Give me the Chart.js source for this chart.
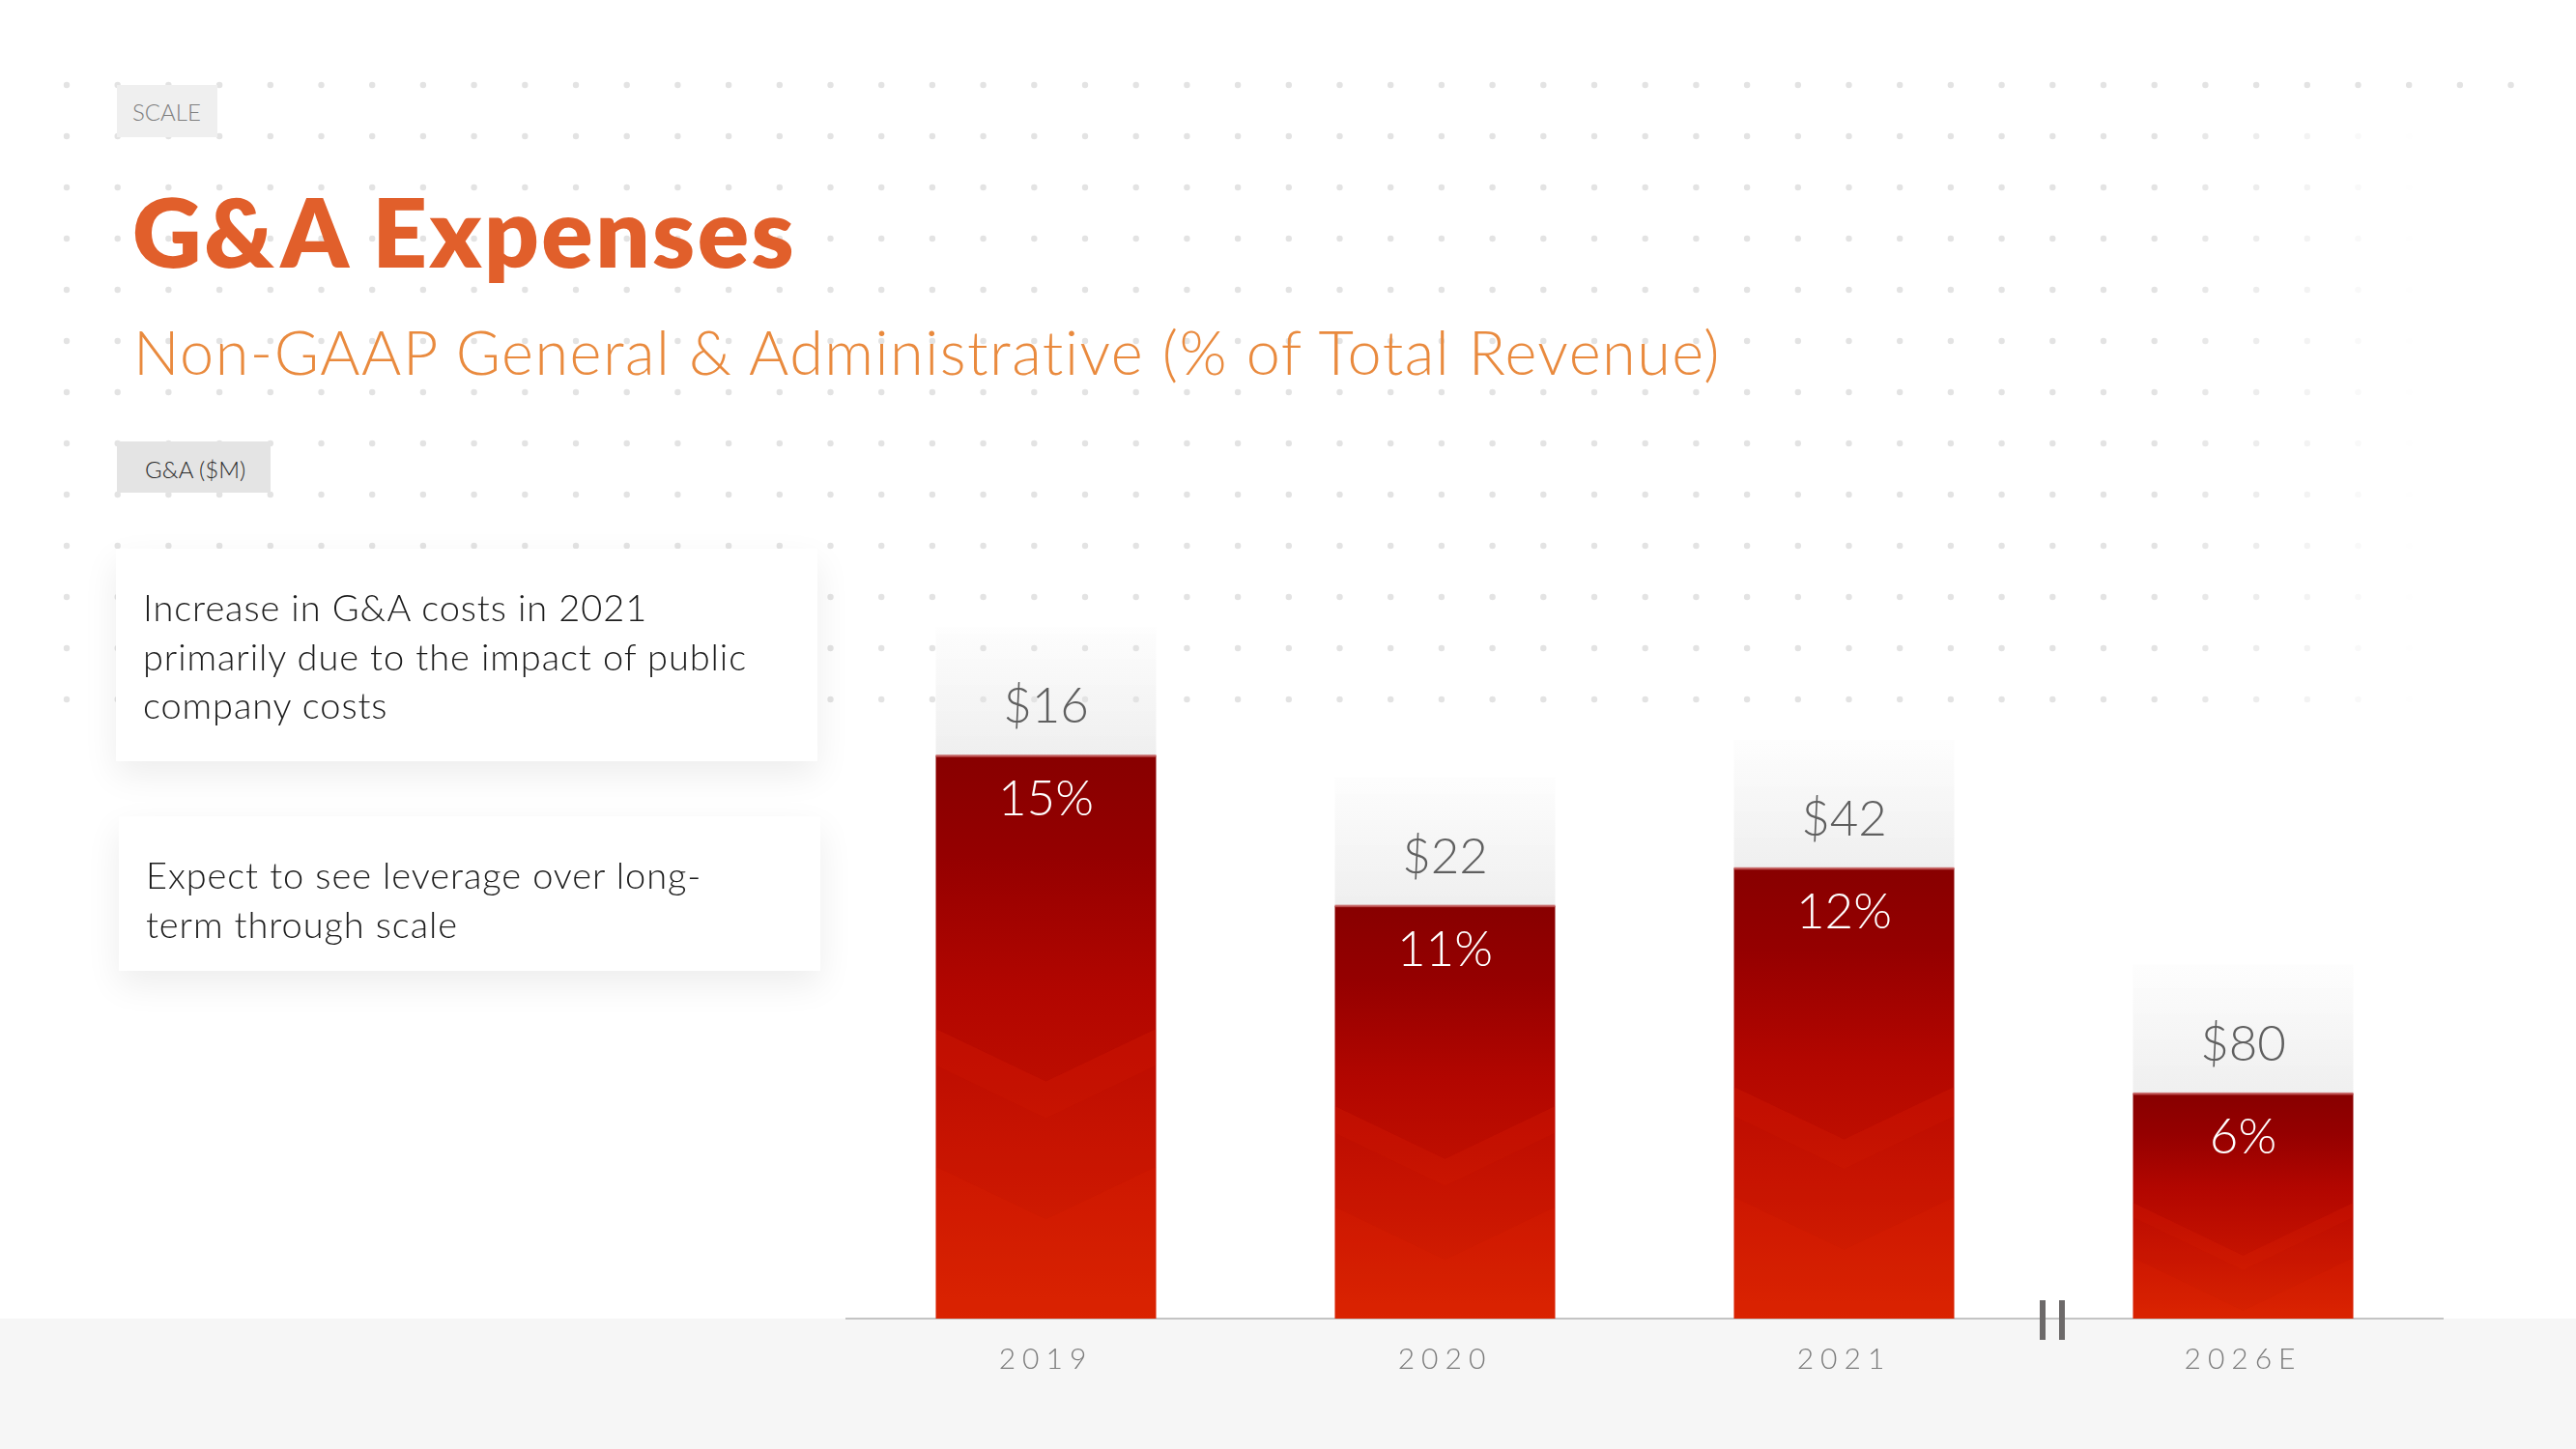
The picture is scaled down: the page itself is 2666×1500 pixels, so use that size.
<!DOCTYPE html>
<html>
<head>
<meta charset="utf-8">
<script src="https://cdn.jsdelivr.net/npm/chart.js@4.4.0/dist/chart.umd.min.js"></script>
<style>
  html, body { margin:0; padding:0; background:#ffffff; }
  body { width:2666px; height:1500px; position:relative; overflow:hidden; font-family:'Lato', 'Open Sans', sans-serif; }
  #c { position:absolute; left:0; top:0; z-index:0; }
  .abs { position:absolute; white-space:nowrap; line-height:1; z-index:2; }
  .tag { position:absolute; z-index:1; }
  .card { position:absolute; z-index:1; background:#ffffff; box-shadow:0 14px 34px rgba(0,0,0,0.075); }
  .cardtext { position:absolute; z-index:2; font-weight:300; font-size:38px; letter-spacing:0.9px; line-height:50.5px; color:#1c1c1c; white-space:nowrap; }
</style>
</head>
<body>
<canvas id="c" width="2666" height="1500"></canvas>

<div class="tag" style="left:121px; top:88px; width:104px; height:54px; background:#efefef;"></div>
<div class="abs" style="left:137px; top:104px; font-size:24px; font-weight:300; color:#7e7e7e;">SCALE</div>

<div class="abs" style="left:137px; top:189px; font-size:99px; font-weight:800; letter-spacing:2.5px; color:#E15F2B;">G&amp;A Expenses</div>
<div class="abs" style="left:138px; top:332px; font-size:63px; font-weight:300; letter-spacing:1.5px; color:#E98A3E;">Non-GAAP General &amp; Administrative (% of Total Revenue)</div>

<div class="tag" style="left:121px; top:457px; width:159px; height:53px; background:#e4e4e4;"></div>
<div class="abs" style="left:150px; top:474px; font-size:24px; font-weight:300; color:#2a2a2a;">G&amp;A ($M)</div>

<div class="card" style="left:120px; top:568px; width:726px; height:220px;"></div>
<div class="cardtext" style="left:148px; top:603px;">Increase in G&amp;A costs in 2021<br>primarily due to the impact of public<br>company costs</div>

<div class="card" style="left:123px; top:845px; width:726px; height:160px;"></div>
<div class="cardtext" style="left:151px; top:880px;">Expect to see leverage over long-<br>term through scale</div>

<script>
// ---- data ----
const categories = ['2019', '2020', '2021', '2026E'];
const pctOfRevenue = [15, 11, 12, 6];      // Non-GAAP G&A as % of total revenue (bar heights)
const gaDollarsM = [16, 22, 42, 80];        // G&A ($M), shown above each bar
const dollarLabels = ['$16', '$22', '$42', '$80'];
const pctLabels = ['15%', '11%', '12%', '6%'];

function barGradient(context) {
  const chart = context.chart;
  const { ctx, chartArea, scales } = chart;
  if (!chartArea || context.type !== 'data') return '#c00000';
  const v = context.raw;
  const top = scales.y.getPixelForValue(v);
  const base = scales.y.getPixelForValue(0);
  const g = ctx.createLinearGradient(0, top, 0, base);
  g.addColorStop(0.00, '#880000');
  g.addColorStop(0.18, '#950000');
  g.addColorStop(0.42, '#b20600');
  g.addColorStop(0.70, '#c41200');
  g.addColorStop(1.00, '#d62300');
  return g;
}

const bgPlugin = {
  id: 'bg',
  beforeDraw(chart) {
    const { ctx, chartArea, width, height } = chart;
    ctx.save();
    ctx.fillStyle = '#f6f6f6';
    ctx.fillRect(0, chartArea.bottom, width, height - chartArea.bottom);
    // dotted background grid
    for (let r = 0; r < 13; r++) {
      const y = 88 + r * 53;
      for (let c = 0; c < 49; c++) {
        const x = 69 + c * 52.7;
        const a = r === 0 ? 1 : Math.max(0, Math.min(1, (2500 - x) / 260));
        if (a <= 0) continue;
        ctx.globalAlpha = a;
        ctx.fillStyle = '#e3e3e3';
        ctx.beginPath();
        ctx.arc(x, y, 3.2, 0, Math.PI * 2);
        ctx.fill();
      }
    }
    ctx.restore();
    ctx.letterSpacing = '7px';
  },
  beforeDatasetsDraw(chart) {
    chart.ctx.letterSpacing = '0px';
  }
};

const decoPlugin = {
  id: 'deco',
  afterDatasetsDraw(chart) {
    const { ctx } = chart;
    const meta = chart.getDatasetMeta(0);
    meta.data.forEach((bar, i) => {
      const { x, y, base, width } = bar.getProps(['x', 'y', 'base', 'width'], true);
      const L = x - width / 2, R = x + width / 2, h = base - y;
      ctx.save();
      // light grey header block above the bar
      const hh = 133;
      const g = ctx.createLinearGradient(0, y - hh, 0, y);
      g.addColorStop(0, 'rgba(228,228,228,0.06)');
      g.addColorStop(1, 'rgba(228,228,228,0.60)');
      ctx.fillStyle = g;
      ctx.fillRect(L, y - hh, width, hh);
      ctx.restore();

      // subtle chevrons inside the bar
      ctx.save();
      ctx.beginPath();
      ctx.rect(L, y, width, h);
      ctx.clip();
      const d = width * 0.24;
      const veeDown = (edgeY) => {
        ctx.beginPath();
        ctx.moveTo(L, edgeY);
        ctx.lineTo(x, edgeY + d);
        ctx.lineTo(R, edgeY);
        ctx.lineTo(R, base + 1);
        ctx.lineTo(L, base + 1);
        ctx.closePath();
        ctx.fill();
      };
      const band = (y1, y2) => {
        ctx.beginPath();
        ctx.moveTo(L, y1);
        ctx.lineTo(x, y1 + d);
        ctx.lineTo(R, y1);
        ctx.lineTo(R, y2);
        ctx.lineTo(x, y2 + d);
        ctx.lineTo(L, y2);
        ctx.closePath();
        ctx.fill();
      };
      ctx.fillStyle = 'rgba(236,40,8,0.10)';
      veeDown(base - 0.515 * h);
      ctx.fillStyle = 'rgba(236,50,10,0.08)';
      band(base - 0.515 * h, base - 0.45 * h);
      ctx.fillStyle = 'rgba(236,45,8,0.12)';
      veeDown(base - 0.27 * h);
      ctx.restore();

      ctx.save();
      // thin highlight line at the bar top
      ctx.fillStyle = 'rgba(196,92,92,0.85)';
      ctx.fillRect(L, y - 1, width, 2.5);
      // value labels
      ctx.font = '300 51px Lato';
      ctx.textAlign = 'center';
      ctx.textBaseline = 'alphabetic';
      ctx.fillStyle = '#5f5f5f';
      ctx.fillText(dollarLabels[i], x, y - 34);
      ctx.fillStyle = '#ffffff';
      ctx.fillText(pctLabels[i], x, y + 62);
      ctx.restore();
    });
  },
  afterDraw(chart) {
    const { ctx, chartArea } = chart;
    const xs = chart.scales.x;
    const b = chartArea.bottom;
    const mx = (xs.getPixelForValue(2) + xs.getPixelForValue(3)) / 2 + 9;
    ctx.save();
    ctx.fillStyle = '#6d6a6a';
    ctx.fillRect(mx - 13, b - 19, 6, 41);
    ctx.fillRect(mx + 7, b - 19, 6, 41);
    ctx.restore();
  }
};

function build() {
  new Chart(document.getElementById('c'), {
    type: 'bar',
    data: {
      labels: categories,
      datasets: [{
        label: 'G&A % of revenue',
        data: pctOfRevenue,
        backgroundColor: barGradient,
        borderWidth: 0,
        barPercentage: 0.552,
        categoryPercentage: 1
      }]
    },
    options: {
      responsive: false,
      animation: false,
      devicePixelRatio: 1,
      layout: { padding: { left: 876, right: 138, top: 588, bottom: 59 } },
      plugins: { legend: { display: false }, tooltip: { enabled: false }, title: { display: false } },
      scales: {
        x: {
          grid: { display: false },
          border: { display: true, color: '#c4c4c4', width: 2 },
          ticks: { font: { family: 'Lato', size: 30, weight: '300' }, color: '#7b7b7b', padding: 16 }
        },
        y: { display: false, min: 0, max: 20 }
      }
    },
    plugins: [bgPlugin, decoPlugin]
  });
}

const fontLoads = ['300 51px Lato', '300 30px Lato', '800 99px Lato', '300 24px Lato']
  .map(f => document.fonts.load(f).catch(() => null));
Promise.race([Promise.all(fontLoads), new Promise(r => setTimeout(r, 1500))]).then(build);
</script>
</body>
</html>
